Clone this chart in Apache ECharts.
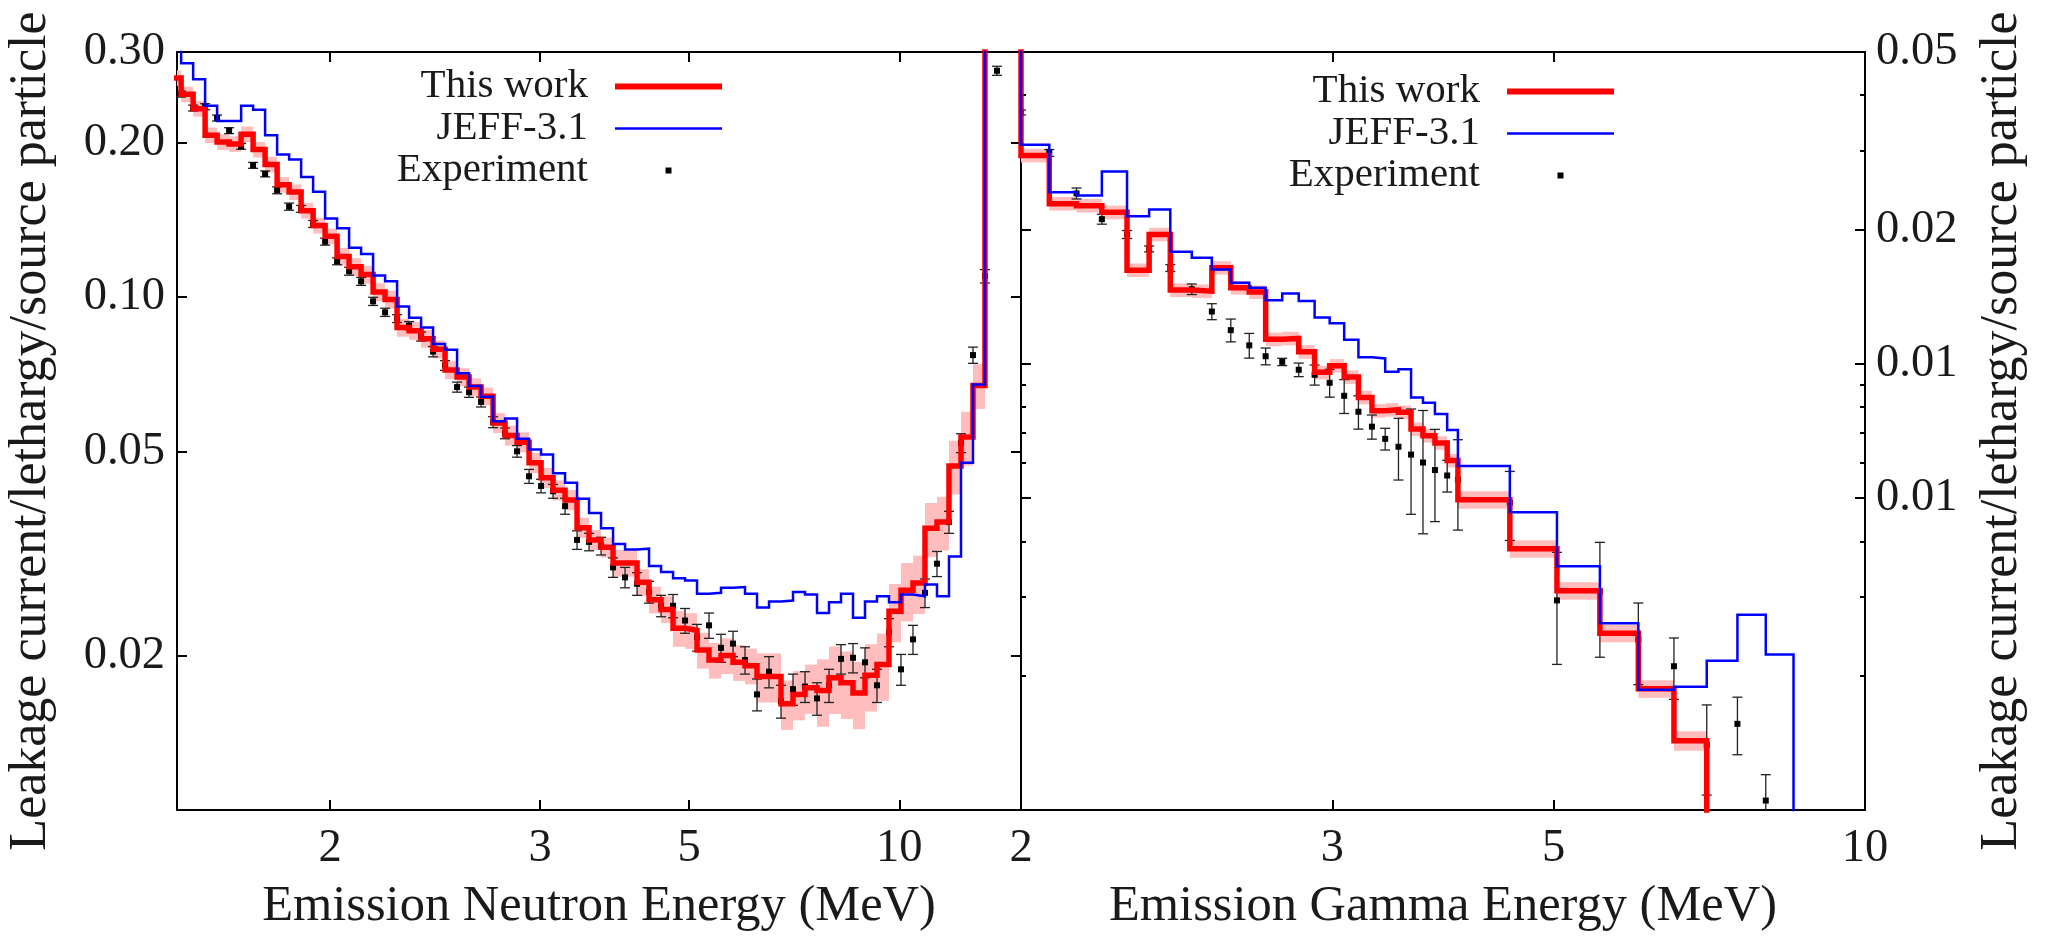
<!DOCTYPE html>
<html>
<head>
<meta charset="utf-8">
<script src="https://cdn.jsdelivr.net/npm/echarts@6/dist/echarts.min.js"></script>
<style>
  html, body { margin: 0; padding: 0; background: #ffffff; }
  #chart { width: 2049px; height: 937px; }
</style>
</head>
<body>
<div id="chart"></div>
<script>
// ---------------- Neutron leakage spectrum ----------------
// Bin edges on the energy axis; the first edge sits just left of the plotted range.
const neutronEdges = [1.4662, 1.5005, 1.5357, 1.5716, 1.6084, 1.6461, 1.6847, 1.7241, 1.7645, 1.8059,
  1.8482, 1.8915, 1.9358, 1.9811, 2.0275, 2.0750, 2.1236, 2.1734, 2.2243, 2.2764,
  2.3297, 2.3843, 2.4401, 2.4973, 2.5558, 2.6157, 2.6769, 2.7396, 2.8038, 2.8695,
  2.9367, 3.0055, 3.0759, 3.1480, 3.2217, 3.2972, 3.3744, 3.4535, 3.5344, 3.6172,
  3.7019, 3.7886, 3.8774, 3.9682, 4.0611, 4.1563, 4.2536, 4.3533, 4.4552, 4.5596,
  4.6664, 4.7757, 4.8876, 5.0021, 5.1193, 5.2392, 5.3619, 5.4875, 5.6161, 5.7476,
  5.8823, 6.0200, 6.1611, 6.3054, 6.4531, 6.6043, 6.7590, 6.9173, 7.0793, 7.2452];
// Value of the bin that starts at each edge
const neutronThisWork = [0.2669, 0.2481, 0.2326, 0.2065, 0.2004, 0.1986, 0.2075, 0.1936, 0.1810, 0.1654,
  0.1600, 0.1472, 0.1377, 0.1312, 0.1198, 0.1144, 0.1105, 0.1022, 0.0988, 0.0871,
  0.0859, 0.0829, 0.0790, 0.0720, 0.0698, 0.0667, 0.0640, 0.0568, 0.0537, 0.0521,
  0.0475, 0.0444, 0.0420, 0.0402, 0.0355, 0.0336, 0.0325, 0.0303, 0.0303, 0.0278,
  0.0257, 0.0246, 0.0226, 0.0224, 0.0205, 0.0196, 0.0200, 0.0194, 0.0191, 0.0182,
  0.0182, 0.0161, 0.0168, 0.0173, 0.0171, 0.0181, 0.0177, 0.0169, 0.0183, 0.0192,
  0.0244, 0.0268, 0.0277, 0.0354, 0.0364, 0.0468, 0.0533, 0.0672, 0.9000];
// Relative uncertainty of this work, percent
const neutronThisWorkUnc = [3.5, 3.5, 3.5, 3.5, 3.5, 3.5, 3.5, 3.5, 3.5, 3.5,
  3.5, 3.5, 3.5, 3.5, 4, 4, 4, 4, 4, 4,
  4, 4, 4, 4, 4, 4, 4, 4.5, 4.5, 4.5,
  4.5, 4.5, 4.5, 4.5, 4.5, 4.5, 4.5, 6, 6, 6,
  6, 6, 8, 8, 8, 8, 8, 8, 8, 11,
  11, 11, 11, 11, 15, 15, 15, 15, 15, 15,
  13, 13, 13, 12, 12, 12, 12, 10, 3];
const neutronJeff = [0.3200, 0.2852, 0.2656, 0.2357, 0.2201, 0.2201, 0.2357, 0.2315, 0.2065, 0.1893,
  0.1851, 0.1713, 0.1602, 0.1422, 0.1361, 0.1246, 0.1212, 0.1101, 0.1072, 0.0958,
  0.0910, 0.0871, 0.0809, 0.0789, 0.0710, 0.0670, 0.0639, 0.0572, 0.0579, 0.0529,
  0.0504, 0.0493, 0.0453, 0.0434, 0.0404, 0.0379, 0.0354, 0.0330, 0.0322, 0.0323,
  0.0299, 0.0291, 0.0283, 0.0280, 0.0264, 0.0265, 0.0271, 0.0272, 0.0264, 0.0248,
  0.0255, 0.0256, 0.0266, 0.0263, 0.0242, 0.0254, 0.0264, 0.0237, 0.0255, 0.0261,
  0.0254, 0.0263, 0.0261, 0.0275, 0.0261, 0.0312, 0.0475, 0.0675, 0.9000];
// Measured points, one at each edge from the second one on
const neutronExp = [0.2484, 0.2333, 0.2347, 0.2231, 0.2108, 0.1965, 0.1804, 0.1736, 0.1613, 0.1499,
  0.1484, 0.1387, 0.1281, 0.1173, 0.1122, 0.1072, 0.0980, 0.0933, 0.0907, 0.0879,
  0.0837, 0.0782, 0.0735, 0.0667, 0.0652, 0.0624, 0.0570, 0.0542, 0.0500, 0.0447,
  0.0428, 0.0418, 0.0391, 0.0336, 0.0333, 0.0327, 0.0297, 0.0284, 0.0276, 0.0266,
  0.0250, 0.0250, 0.0234, 0.0217, 0.0229, 0.0207, 0.0211, 0.0196, 0.0168, 0.0186,
  0.0163, 0.0172, 0.0174, 0.0165, 0.0175, 0.0197, 0.0198, 0.0194, 0.0175, 0.0222,
  0.0188, 0.0215, 0.0265, 0.0302, 0.0364, 0.0519, 0.0770, 0.1097, 0.2758];
const neutronExpErr = [0.0033, 0.0031, 0.0032, 0.0030, 0.0028, 0.0026, 0.0024, 0.0023, 0.0025, 0.0024,
  0.0023, 0.0022, 0.0020, 0.0018, 0.0020, 0.0019, 0.0018, 0.0017, 0.0016, 0.0016,
  0.0017, 0.0018, 0.0016, 0.0015, 0.0015, 0.0014, 0.0014, 0.0013, 0.0013, 0.0014,
  0.0013, 0.0013, 0.0014, 0.0014, 0.0013, 0.0013, 0.0013, 0.0013, 0.0014, 0.0013,
  0.0012, 0.0013, 0.0013, 0.0013, 0.0013, 0.0013, 0.0012, 0.0012, 0.0012, 0.0013,
  0.0012, 0.0012, 0.0012, 0.0012, 0.0013, 0.0013, 0.0013, 0.0013, 0.0013, 0.0014,
  0.0013, 0.0014, 0.0017, 0.0017, 0.0018, 0.0022, 0.0028, 0.0033, 0.0056];

// ---------------- Gamma leakage spectrum ----------------
const gammaEdges = [1.930, 2.000, 2.075, 2.150, 2.222, 2.296, 2.363, 2.429, 2.498, 2.564,
  2.628, 2.692, 2.750, 2.810, 2.871, 2.931, 2.989, 3.046, 3.103, 3.158,
  3.213, 3.269, 3.323, 3.375, 3.428, 3.483, 3.532, 3.779, 4.018, 4.249,
  4.467, 4.679, 4.883, 5.082, 5.273, 5.467];
const gammaThisWork = [0.0800, 0.02930, 0.02286, 0.02262, 0.02186, 0.01622, 0.01950, 0.01463, 0.01455, 0.01642,
  0.01481, 0.01448, 0.01135, 0.01140, 0.01064, 0.00957, 0.00990, 0.00934, 0.00841, 0.00785,
  0.00789, 0.00779, 0.00714, 0.00690, 0.00665, 0.00607, 0.00496, 0.00385, 0.00310, 0.00249,
  0.00187, 0.00143, 0.00080];
const gammaThisWorkUnc = [3, 3.5, 3.5, 3.5, 3.5, 3.5, 3.5, 3.5, 3.5, 3.5,
  3.5, 3.5, 3.5, 3.5, 3.5, 3.5, 3.5, 3.5, 3.5, 3.5,
  3.5, 3.5, 3.5, 3.5, 3.5, 3.5, 4.5, 4.5, 4.5, 4.5,
  4.5, 5, 5];
const gammaJeff = [0.0800, 0.03098, 0.02424, 0.02383, 0.02700, 0.02141, 0.02217, 0.01783, 0.01729, 0.01628,
  0.01520, 0.01481, 0.01388, 0.01437, 0.01383, 0.01270, 0.01233, 0.01133, 0.01034, 0.01028,
  0.00960, 0.00973, 0.00841, 0.00818, 0.00772, 0.00711, 0.00590, 0.00465, 0.00352, 0.00262,
  0.00186, 0.00189, 0.00216, 0.00274, 0.00223, 0.00050];
const gammaExp = [0.0366, 0.0297, 0.0241, 0.0211, 0.0195, 0.0181, 0.0164, 0.0147, 0.0131, 0.0119,
  0.0110, 0.0104, 0.0101, 0.0097, 0.00945, 0.00907, 0.00848, 0.00781, 0.00723, 0.00679,
  0.00652, 0.00626, 0.00601, 0.00578, 0.00562, 0.00550, 0.00488, 0.00295, 0.00309, 0.00241,
  0.00210, 0.00140, 0.00156, 0.00105];
const gammaExpErr = [0.00047, 0.00053, 0.00068, 0.00054, 0.00040, 0.00028, 0.00029, 0.00040, 0.00054, 0.00070,
  0.00070, 0.00045, 0.00019, 0.00034, 0.00049, 0.00065, 0.00074, 0.00067, 0.00045, 0.00038,
  0.00103, 0.00166, 0.00185, 0.00135, 0.00046, 0.00126, 0.00086, 0.00083, 0.00089, 0.00050,
  0.00033, 0.00032, 0.00023, 0.00015];

// ---------------- Axes ----------------
const neutronXRange = [1.4886, 7.589];
const gammaXRange = [2, 6];
const neutronYRange = [0.01, 0.30];
const gammaYRange = [0.001, 0.05];
const energyTickValues = [2, 3, 4, 6];
const energyTickLabels = ['2', '3', '5', '10'];
const neutronYTickValues = [0.30, 0.20, 0.10, 0.05, 0.02];
const neutronYTickLabels = ['0.30', '0.20', '0.10', '0.05', '0.02'];
const gammaYTickValues = [0.05, 0.02, 0.01, 0.005];
const gammaYTickLabels = ['0.05', '0.02', '0.01', '0.01'];
const gammaYMinorTicks = [0.04, 0.03, 0.009, 0.008, 0.007, 0.006, 0.004, 0.003, 0.002];

const FONT = '"Liberation Serif", "DejaVu Serif", serif';
const INK = '#1a1a1a';
const RED = '#ff0000';
const BLUE = '#0000ff';
const PINK = '#ffbdbd';

// Labels are looked up by tick, since ticks live on log10 copies of the data axes
function labelLookup(values, labels) {
  const logs = values.map(Math.log10);
  return function (v) {
    let best = 0;
    for (let i = 1; i < logs.length; i++) {
      if (Math.abs(logs[i] - v) < Math.abs(logs[best] - v)) best = i;
    }
    return labels[best];
  };
}

function dataAxis(grid, range) {
  return { type: 'log', logBase: 10, gridIndex: grid, min: range[0], max: range[1], show: false };
}

function tickAxis(grid, range, position, ticks, tickLen, labelCfg, extra) {
  const axis = {
    type: 'value', gridIndex: grid, position: position,
    min: Math.log10(range[0]), max: Math.log10(range[1]),
    axisLine: { show: true, onZero: false, lineStyle: { color: '#000', width: 2 } },
    axisTick: { show: true, inside: true, length: tickLen, customValues: ticks.map(Math.log10),
      lineStyle: { color: '#000', width: 2 } },
    axisLabel: { show: false },
    splitLine: { show: false },
    splitArea: { show: false }
  };
  if (labelCfg) {
    axis.axisLabel = Object.assign({
      show: true, customValues: labelCfg.values.map(Math.log10),
      formatter: labelLookup(labelCfg.values, labelCfg.labels),
      fontFamily: FONT, fontSize: 46.5, color: INK
    }, labelCfg.style || {});
  }
  return Object.assign(axis, extra || {});
}

const nameStyle = { fontFamily: FONT, fontSize: 50.5, color: INK };
const yNameStyle = { fontFamily: FONT, fontSize: 52, color: INK };
const yTitle = 'Leakage current/lethargy/source particle';

const xAxis = [
  dataAxis(0, neutronXRange),
  tickAxis(0, neutronXRange, 'bottom', energyTickValues, 10,
    { values: energyTickValues, labels: energyTickLabels, style: { margin: 15 } },
    { name: 'Emission Neutron Energy (MeV)', nameLocation: 'middle', nameGap: 71, nameTextStyle: nameStyle }),
  tickAxis(0, neutronXRange, 'top', energyTickValues, 10, null),
  dataAxis(1, gammaXRange),
  tickAxis(1, gammaXRange, 'bottom', energyTickValues, 10,
    { values: energyTickValues, labels: energyTickLabels, style: { margin: 15 } },
    { name: 'Emission Gamma Energy (MeV)', nameLocation: 'middle', nameGap: 71, nameTextStyle: nameStyle }),
  tickAxis(1, gammaXRange, 'top', energyTickValues, 10, null)
];

const yAxis = [
  dataAxis(0, neutronYRange),
  tickAxis(0, neutronYRange, 'left', neutronYTickValues, 10,
    { values: neutronYTickValues, labels: neutronYTickLabels, style: { margin: 12 } },
    { name: yTitle, nameLocation: 'middle', nameGap: 120, nameTextStyle: yNameStyle }),
  tickAxis(0, neutronYRange, 'right', neutronYTickValues, 10, null),
  dataAxis(1, gammaYRange),
  tickAxis(1, gammaYRange, 'right', gammaYTickValues, 10,
    { values: gammaYTickValues, labels: gammaYTickLabels, style: { margin: 11 } },
    { name: yTitle, nameLocation: 'middle', nameGap: 111, nameTextStyle: yNameStyle }),
  tickAxis(1, gammaYRange, 'right', gammaYMinorTicks, 5, null),
  tickAxis(1, gammaYRange, 'left', gammaYTickValues, 10, null),
  tickAxis(1, gammaYRange, 'left', gammaYMinorTicks, 5, null)
];

// ---------------- Series builders ----------------
function stepSeries(name, xi, yi, edges, values, color, width) {
  return {
    type: 'line', name: name, xAxisIndex: xi, yAxisIndex: yi,
    data: values.map(function (v, i) { return [edges[i], v]; }),
    step: 'end', symbol: 'none', showSymbol: false, clip: true, silent: true,
    color: color,
    lineStyle: { color: color, width: width, join: 'miter', cap: 'butt' },
    emphasis: { disabled: true }
  };
}

function bandSeries(xi, yi, edges, values, unc) {
  const data = [];
  for (let i = 0; i < values.length && i + 1 < edges.length; i++) {
    const u = unc[i] / 100;
    data.push([edges[i], edges[i + 1], values[i] * (1 - u), values[i] * (1 + u)]);
  }
  return {
    type: 'custom', name: 'This work uncertainty', xAxisIndex: xi, yAxisIndex: yi,
    clip: true, silent: true, data: data,
    encode: { x: [0, 1], y: [2, 3] },
    renderItem: function (params, api) {
      const a = api.coord([api.value(0), api.value(3)]);
      const b = api.coord([api.value(1), api.value(2)]);
      return {
        type: 'rect',
        shape: { x: a[0], y: a[1], width: b[0] - a[0], height: b[1] - a[1] },
        style: { fill: PINK }
      };
    }
  };
}

function expSeries(xi, yi, energies, values, errs) {
  return {
    type: 'custom', name: 'Experiment', xAxisIndex: xi, yAxisIndex: yi,
    clip: true, silent: true, color: '#000',
    data: values.map(function (v, i) { return [energies[i], v - errs[i], v + errs[i], v]; }),
    encode: { x: 0, y: [1, 2, 3] },
    renderItem: function (params, api) {
      const x = api.value(0);
      const lo = api.coord([x, api.value(1)]);
      const hi = api.coord([x, api.value(2)]);
      const c = api.coord([x, api.value(3)]);
      const bar = { stroke: '#222', lineWidth: 1.3 };
      return {
        type: 'group',
        children: [
          { type: 'line', shape: { x1: c[0], y1: hi[1], x2: c[0], y2: lo[1] }, style: bar },
          { type: 'line', shape: { x1: c[0] - 5, y1: hi[1], x2: c[0] + 5, y2: hi[1] }, style: bar },
          { type: 'line', shape: { x1: c[0] - 5, y1: lo[1], x2: c[0] + 5, y2: lo[1] }, style: bar },
          { type: 'rect', shape: { x: c[0] - 3, y: c[1] - 3, width: 6, height: 6 }, style: { fill: '#000' } }
        ]
      };
    }
  };
}

function legendFor(right, top) {
  return {
    orient: 'vertical', align: 'right', right: right, top: top, padding: 0,
    itemWidth: 107, itemHeight: 6, itemGap: 1, selectedMode: false,
    itemStyle: { borderWidth: 0 },
    textStyle: { fontFamily: FONT, fontSize: 41, color: INK, lineHeight: 40, padding: [0, 22, 0, 0] },
    data: [
      { name: 'This work', icon: 'rect', itemStyle: { color: RED } },
      { name: 'JEFF-3.1', icon: 'path://M0 0H107V2.5H0Z', itemStyle: { color: BLUE } },
      { name: 'Experiment', icon: 'path://M0 0H6V6H0Z', itemStyle: { color: '#000' } }
    ]
  };
}

const option = {
  animation: false,
  backgroundColor: '#ffffff',
  textStyle: { fontFamily: FONT },
  grid: [
    { left: 177, top: 52, width: 844, height: 760 },
    { left: 1021, top: 52, width: 844, height: 760 }
  ],
  legend: [legendFor(1327, 66), legendFor(435, 71)],
  xAxis: xAxis,
  yAxis: yAxis,
  series: [
    bandSeries(0, 0, neutronEdges, neutronThisWork, neutronThisWorkUnc),
    stepSeries('This work', 0, 0, neutronEdges, neutronThisWork, RED, 5.5),
    stepSeries('JEFF-3.1', 0, 0, neutronEdges, neutronJeff, BLUE, 2.5),
    expSeries(0, 0, neutronEdges.slice(1), neutronExp, neutronExpErr),
    bandSeries(3, 3, gammaEdges, gammaThisWork, gammaThisWorkUnc),
    stepSeries('This work', 3, 3, gammaEdges, gammaThisWork, RED, 5.5),
    stepSeries('JEFF-3.1', 3, 3, gammaEdges, gammaJeff, BLUE, 2.5),
    expSeries(3, 3, gammaEdges.slice(1), gammaExp, gammaExpErr)
  ]
};

const chart = echarts.init(document.getElementById('chart'), null, { renderer: 'canvas' });
chart.setOption(option);
</script>
</body>
</html>
